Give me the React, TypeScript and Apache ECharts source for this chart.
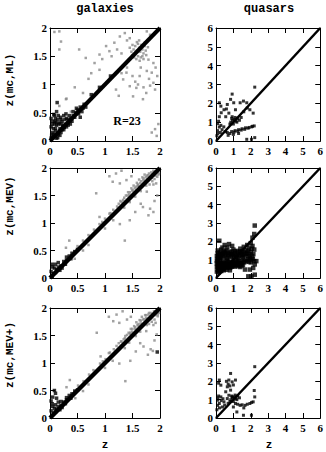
import React, { useEffect, useRef } from 'react';
import * as echarts from 'echarts';

const COLUMN_TITLES = ['galaxies', 'quasars'];
const ROW_NAMES = ['z(mc,ML)', 'z(mc,MEV)', 'z(mc,MEV+)'];
const X_NAME = 'z';
const NOTE = 'R=23';
const GAL_AXIS = [0, 2, 0.5];
const QSO_AXIS = [0, 6, 1];

const galDiag = [[0, 0], [2, 2]];
const qsoDiag = [[0, 0], [6, 6]];

// galaxies, ML
const g1Gray = [
  [0.08, 1.93], [0.17, 1.62], [0.2, 1.76], [0.53, 1.62], [0.65, 1.47], [0.81, 1.38], [0.9, 1.53], [0.95, 1.45],
  [1.02, 1.68], [1.08, 1.59], [1.12, 1.5], [1.17, 1.74], [1.22, 1.62], [1.27, 1.85], [1.3, 1.55], [1.36, 1.91],
  [1.4, 1.78], [1.45, 1.82], [1.76, 1.94], [1.82, 1.88], [0.9, 1.26], [0.7, 1.1], [0.45, 0.95], [0.6, 0.85],
  [0.3, 0.75], [0.17, 0.62], [0.29, 0.74], [0.38, 0.52], [0.75, 1.2], [0.17, 1.94],
  [1.5, 1.7], [1.52, 1.62], [1.55, 1.55], [1.55, 1.68], [1.58, 1.6], [1.6, 1.5], [1.6, 1.72], [1.62, 1.65],
  [1.64, 1.58], [1.65, 1.48], [1.66, 1.7], [1.68, 1.62], [1.7, 1.55], [1.7, 1.45], [1.72, 1.68], [1.74, 1.6],
  [1.75, 1.52], [1.53, 1.48], [1.48, 1.58], [1.57, 1.45], [1.63, 1.42], [1.68, 1.5], [1.72, 1.74], [1.78, 1.66],
  [1.5, 1.52], [1.45, 1.65], [1.58, 1.75], [1.62, 1.78],
  [1.2, 0.91], [1.33, 1.09], [1.39, 1.21], [1.45, 0.97], [1.51, 0.79], [1.57, 0.94], [1.63, 1.15], [1.69, 0.74],
  [1.76, 1.24], [1.79, 1.44], [1.85, 1.21], [1.88, 1.03], [1.88, 1.38], [1.91, 0.91], [1.6, 1.0], [1.7, 0.95],
  [1.8, 1.1], [1.55, 1.05], [1.4, 1.3], [1.3, 1.2], [1.95, 1.15], [1.92, 1.3], [1.65, 1.3], [1.75, 0.85],
  [1.25, 0.8], [1.5, 1.15], [1.82, 0.98],
  [1.91, 0.21], [1.94, 0.09], [1.85, 0.15], [1.97, 0.3],
];
const g1Black = [
  [0.13, 0.68], [0.07, 0.47], [0.05, 0.35], [0.1, 0.4], [0.15, 0.45], [0.02, 0.25], [0.08, 0.3], [0.12, 0.28],
  [0.2, 0.38], [0.25, 0.45], [0.18, 0.22], [0.05, 0.15], [0.1, 0.18], [0.15, 0.12], [0.22, 0.2], [0.28, 0.3],
  [0.3, 0.4], [0.35, 0.45], [0.05, 0.05], [0.03, 0.1], [0.08, 0.08], [0.12, 0.05], [0.25, 0.2], [0.32, 0.32],
  [0.38, 0.4], [0.42, 0.52], [0.45, 0.42], [0.5, 0.55], [0.55, 0.6], [0.6, 0.58], [0.4, 0.35], [0.2, 0.3],
  [0.3, 0.25], [0.15, 0.3], [0.1, 0.22], [0.75, 0.82], [0.9, 0.95], [1.1, 1.15], [0.55, 0.42],
  [0.02, 0.4], [0.04, 0.3], [0.06, 0.22], [0.09, 0.35], [0.11, 0.33], [0.14, 0.38], [0.17, 0.32], [0.19, 0.42],
  [0.22, 0.35], [0.24, 0.28], [0.27, 0.38], [0.29, 0.48], [0.33, 0.38], [0.36, 0.36], [0.02, 0.05], [0.06, 0.12],
  [0.14, 0.06], [0.18, 0.1], [0.2, 0.15], [0.23, 0.25], [0.26, 0.24], [0.33, 0.28], [0.37, 0.3], [0.42, 0.45],
  [0.47, 0.5], [0.52, 0.48], [0.58, 0.52], [0.62, 0.65], [0.65, 0.6], [0.48, 0.58], [0.08, 0.45], [0.12, 0.52],
];

// galaxies, MEV
const g2Gray = [
  [1.3, 1.38], [1.35, 1.46], [1.41, 1.5], [1.45, 1.56], [1.5, 1.6], [1.56, 1.66], [1.6, 1.7], [1.66, 1.76],
  [1.7, 1.81], [1.76, 1.86], [1.8, 1.9], [1.42, 1.56], [1.52, 1.68], [1.62, 1.79], [1.72, 1.88], [1.48, 1.63],
  [1.58, 1.73], [1.68, 1.83], [1.86, 1.76], [1.9, 1.8], [1.95, 1.84], [1.88, 1.7], [1.93, 1.72], [1.81, 1.7],
  [1.98, 1.9], [1.25, 1.35], [1.15, 1.24],
  [1.22, 1.3], [1.28, 1.4], [1.33, 1.42], [1.38, 1.5], [1.44, 1.52], [1.5, 1.58], [1.54, 1.63], [1.6, 1.68],
  [1.64, 1.73], [1.7, 1.78], [1.74, 1.83], [1.78, 1.87], [1.84, 1.92], [1.88, 1.95], [1.35, 1.28], [1.45, 1.38],
  [1.55, 1.48], [1.65, 1.58], [1.75, 1.68], [1.85, 1.82], [1.92, 1.86], [1.97, 1.88], [0.5, 0.58], [0.6, 0.68],
  [0.7, 0.78], [0.8, 0.88], [0.9, 0.98], [1.0, 1.08], [1.1, 1.18],
  [0.84, 1.54], [1.08, 1.85], [1.14, 1.75], [1.27, 1.72], [1.39, 1.78], [1.48, 1.85], [1.2, 1.9], [1.3, 1.95],
  [1.6, 1.68], [1.76, 1.57], [1.69, 1.29], [1.82, 1.26], [1.88, 1.2], [1.79, 1.14], [0.9, 1.11], [1.08, 1.17],
  [1.36, 0.68], [1.45, 1.05], [0.29, 0.55], [0.35, 0.68], [1.27, 0.98], [1.55, 1.2], [1.65, 1.35], [1.9, 1.4],
  [1.95, 1.5], [0.6, 0.5], [0.7, 0.6], [0.45, 0.35], [1.0, 0.9], [1.15, 1.05], [0.95, 1.02],
];
const g2Black = [
  [0.02, 0.12], [0.05, 0.2], [0.04, 0.25], [0.08, 0.18], [0.1, 0.25], [0.12, 0.15], [0.15, 0.2], [0.06, 0.08],
  [0.1, 0.1], [0.2, 0.22], [0.25, 0.3], [0.3, 0.32], [0.35, 0.4], [0.4, 0.45], [0.45, 0.48], [0.5, 0.52],
  [0.38, 0.35], [0.28, 0.25], [0.18, 0.14], [0.3, 0.38], [0.15, 0.28], [0.22, 0.18], [0.04, 0.02],
];

// galaxies, MEV+
const g3Gray = [
  [1.3, 1.39], [1.36, 1.45], [1.4, 1.51], [1.46, 1.55], [1.5, 1.62], [1.55, 1.65], [1.61, 1.71], [1.65, 1.77],
  [1.71, 1.8], [1.75, 1.87], [1.8, 1.91], [1.43, 1.55], [1.53, 1.67], [1.63, 1.78], [1.73, 1.87], [1.47, 1.62],
  [1.57, 1.74], [1.67, 1.84], [1.85, 1.75], [1.9, 1.79], [1.96, 1.85], [1.88, 1.69], [1.92, 1.73], [1.8, 1.71],
  [1.98, 1.91], [1.25, 1.36], [1.16, 1.25],
  [1.21, 1.31], [1.29, 1.39], [1.34, 1.43], [1.37, 1.49], [1.45, 1.53], [1.49, 1.57], [1.55, 1.62], [1.59, 1.69],
  [1.65, 1.72], [1.69, 1.79], [1.75, 1.82], [1.79, 1.88], [1.83, 1.91], [1.89, 1.94], [1.36, 1.27], [1.44, 1.37],
  [1.56, 1.49], [1.64, 1.57], [1.76, 1.69], [1.84, 1.81], [1.93, 1.87], [1.96, 1.89], [0.51, 0.59], [0.61, 0.67],
  [0.71, 0.79], [0.79, 0.87], [0.91, 0.99], [1.01, 1.07], [1.09, 1.19],
  [0.85, 1.55], [1.07, 1.84], [1.15, 1.76], [1.26, 1.73], [1.4, 1.79], [1.47, 1.84], [1.21, 1.88], [1.32, 1.94],
  [1.61, 1.67], [1.75, 1.58], [1.7, 1.3], [1.83, 1.25], [1.87, 1.22], [1.78, 1.15], [0.92, 1.12], [1.07, 1.18],
  [1.37, 0.67], [1.46, 1.04], [0.3, 0.56], [0.36, 0.69], [1.26, 0.99], [1.56, 1.21], [1.64, 1.36], [1.9, 1.41],
  [1.94, 1.52], [0.6, 0.49], [0.7, 0.61], [0.46, 0.36], [1.0, 0.91], [1.14, 1.04], [0.96, 1.03],
];
const g3Black = [
  [0.02, 0.13], [0.05, 0.21], [0.04, 0.26], [0.08, 0.17], [0.1, 0.24], [0.12, 0.16], [0.15, 0.21], [0.06, 0.09],
  [0.1, 0.11], [0.2, 0.23], [0.25, 0.29], [0.3, 0.33], [0.35, 0.41], [0.4, 0.44], [0.45, 0.49], [0.5, 0.51],
  [0.38, 0.36], [0.28, 0.26], [0.18, 0.15], [0.3, 0.37], [0.15, 0.29], [0.22, 0.19],
  [0.1, 0.45], [0.05, 0.38], [0.12, 0.36], [0.02, 0.31], [0.2, 0.3], [1.95, 1.2], [0.08, 0.5],
];

// quasars, ML
const q1Black = [
  [0.19, 2.03], [0.28, 1.85], [0.46, 1.66], [0.65, 1.94], [0.84, 2.21], [0.93, 2.49], [1.02, 2.03], [1.12, 1.66],
  [1.39, 2.03], [1.58, 2.12], [1.77, 2.03], [1.95, 1.66], [2.23, 2.86], [2.14, 1.48], [0.56, 1.29], [0.74, 1.48],
  [0.93, 1.29], [0.19, 1.29], [0.3, 1.5], [0.6, 1.7],
  [0.85, 1.0], [0.95, 1.1], [1.05, 1.15], [1.15, 1.05], [1.25, 1.2], [1.0, 0.9], [1.35, 1.1], [1.45, 1.25],
  [0.9, 1.2], [1.2, 1.0], [1.1, 1.25], [0.8, 0.9],
  [0.09, 0.92], [0.19, 0.74], [0.09, 0.55], [0.28, 0.83], [0.05, 0.28], [0.15, 1.05], [0.35, 0.6], [0.45, 0.75],
  [0.55, 0.5], [0.1, 0.4], [0.25, 0.45],
  [0.65, 0.45], [0.8, 0.4], [0.9, 0.5], [1.05, 0.48], [1.1, 0.55], [1.25, 0.52], [1.3, 0.6], [1.45, 0.58],
  [1.5, 0.65], [1.65, 0.62], [1.7, 0.7], [1.85, 0.68], [1.9, 0.72], [2.05, 0.75], [2.1, 0.78], [2.2, 0.8],
  [0.7, 0.3], [1.0, 0.35], [1.3, 0.4],
  [1.77, 0.09], [2.04, 0.09], [2.23, 0.18], [1.6, 1.55], [1.8, 1.75],
];

// quasars, MEV
const q2Black = [
  [0.19, 2.03], [0.37, 1.66], [0.65, 1.66], [0.93, 1.75], [0.5, 1.8], [0.75, 1.85],
  [0.1, 1.5], [0.2, 1.4], [0.3, 1.55], [0.45, 1.45], [0.6, 1.5], [0.8, 1.4], [1.0, 1.55], [1.2, 1.48],
  [1.1, 1.35], [1.4, 1.6], [1.6, 1.7], [1.8, 1.8], [2.0, 1.9], [1.9, 1.6], [2.1, 1.75], [1.7, 1.5], [1.5, 1.45],
  [0.05, 1.2], [0.15, 1.25], [0.25, 1.1], [0.35, 1.3], [0.5, 1.2], [0.62, 1.1], [0.7, 1.28], [0.85, 1.15],
  [0.95, 1.3], [1.05, 1.15], [1.2, 1.25], [1.3, 1.1], [1.45, 1.3], [1.55, 1.15], [1.7, 1.3], [1.85, 1.2],
  [2.0, 1.4], [2.15, 1.3], [1.95, 1.1], [2.2, 1.55],
  [0.05, 0.95], [0.12, 0.85], [0.22, 0.98], [0.3, 0.82], [0.42, 0.92], [0.55, 0.85], [0.65, 0.98], [0.78, 0.88],
  [0.9, 0.8], [1.0, 0.95], [1.12, 0.85], [1.25, 0.95], [1.38, 0.82], [1.5, 0.92], [1.62, 0.85], [1.78, 0.95],
  [1.9, 0.88], [2.05, 0.98], [2.2, 0.92], [2.32, 0.92],
  [0.05, 0.6], [0.1, 0.7], [0.18, 0.55], [0.28, 0.68], [0.38, 0.58], [0.5, 0.65], [0.6, 0.55], [0.72, 0.68],
  [0.85, 0.6], [0.98, 0.7], [1.1, 0.62], [1.25, 0.7], [1.4, 0.6], [1.55, 0.7], [1.67, 0.46], [1.95, 0.46],
  [2.14, 0.55], [2.23, 0.74],
  [0.05, 0.35], [0.1, 0.45], [0.2, 0.4], [0.3, 0.38], [0.45, 0.42], [0.6, 0.45], [0.8, 0.42],
  [1.86, 0.09], [2.04, 0.09], [2.23, 0.18], [2.23, 2.86], [2.1, 2.2], [2.2, 2.4],
  [0.08, 1.05], [0.18, 1.15], [0.28, 1.2], [0.4, 1.15], [0.55, 1.3], [0.75, 1.2], [0.88, 1.3], [1.0, 1.22],
  [1.15, 1.15], [1.35, 1.2], [1.5, 1.25], [1.62, 1.22], [1.78, 1.35], [1.9, 1.3], [2.08, 1.2],
  [0.05, 0.8], [0.15, 0.75], [0.25, 0.85], [0.35, 0.72], [0.48, 0.8], [0.6, 0.75], [0.7, 0.9], [0.82, 0.75],
  [0.95, 0.85], [1.05, 0.78], [1.18, 0.95], [1.3, 0.88], [1.45, 0.8], [1.58, 0.98], [1.7, 0.9], [1.85, 1.02],
  [2.0, 0.85], [2.12, 1.05],
  [0.1, 1.35], [0.25, 1.3], [0.4, 1.38], [0.52, 1.4], [0.68, 1.38], [0.9, 1.45], [1.08, 1.45], [1.28, 1.4],
  [1.38, 1.45], [1.62, 1.4], [1.85, 1.5], [2.05, 1.6],
  [0.12, 0.6], [0.22, 0.65], [0.32, 0.55], [0.45, 0.55], [0.55, 0.72], [0.68, 0.6], [0.8, 0.55], [0.92, 0.62],
  [1.05, 0.68], [1.18, 0.72], [1.3, 0.65], [1.48, 0.68], [0.15, 0.3], [0.25, 0.5], [0.4, 0.5],
];

// quasars, MEV+
const q3Black = [
  [0.19, 2.07], [0.28, 1.79], [0.84, 2.43], [0.74, 2.07], [0.93, 1.97], [1.12, 2.07], [0.65, 1.7], [0.56, 1.43],
  [0.84, 1.52], [0.7, 1.85], [0.6, 2.0], [0.8, 1.75], [1.0, 1.8], [0.15, 1.9], [2.23, 2.8], [2.2, 1.5],
  [0.85, 1.0], [0.95, 1.1], [1.05, 1.15], [1.15, 1.05], [1.25, 1.2], [1.0, 0.9], [1.35, 1.1], [0.9, 1.2],
  [1.2, 1.0], [1.1, 1.25], [0.8, 0.9], [0.7, 0.8],
  [1.12, 0.79], [1.39, 0.69], [1.67, 0.69], [1.95, 0.79], [2.14, 0.88], [2.23, 1.15], [1.25, 0.75], [1.5, 0.72],
  [1.8, 0.75], [2.05, 0.85], [1.0, 0.6], [1.6, 0.55],
  [1.58, 0.15], [2.04, 0.15], [1.2, 0.33],
  [0.09, 0.97], [0.19, 0.79], [0.09, 0.69], [0.28, 1.15], [0.37, 0.6], [0.46, 0.88], [0.65, 1.06], [0.74, 1.24],
  [0.93, 1.15], [0.1, 1.1], [0.2, 0.55], [0.05, 0.45], [0.3, 0.95], [0.5, 0.7], [0.15, 1.2], [0.4, 1.05],
];

const GRAY = '#8a8a8a';
const GRIDS = [
  { left: 50, top: 28, width: 110, height: 113 },
  { left: 216, top: 28, width: 107, height: 113 },
  { left: 50, top: 168, width: 110, height: 110 },
  { left: 216, top: 168, width: 107, height: 110 },
  { left: 50, top: 308, width: 110, height: 110 },
  { left: 216, top: 308, width: 107, height: 110 },
];

const labelFont = { color: '#000', fontFamily: 'Liberation Serif', fontWeight: 'bold' as const, fontSize: 11 };

function axisPair(gridIndex: number, range: number[], dim: 'x' | 'y') {
  const base = {
    gridIndex,
    type: 'value',
    min: range[0],
    max: range[1],
    interval: range[2],
    axisLine: { show: true, onZero: false, lineStyle: { color: '#000', width: 1 } },
    axisTick: { show: true, inside: true, length: 5, lineStyle: { color: '#000', width: 1 } },
    splitLine: { show: false },
  };
  return [
    {
      ...base,
      position: dim === 'x' ? 'bottom' : 'left',
      axisLabel: { show: true, margin: dim === 'x' ? 4 : 3, showMinLabel: true, showMaxLabel: true, ...labelFont },
    },
    { ...base, position: dim === 'x' ? 'top' : 'right', axisLabel: { show: false } },
  ];
}

export default function App() {
  const ref = useRef<HTMLDivElement>(null);
  useEffect(() => {
    if (!ref.current) return;
    const chart = echarts.init(ref.current, undefined, { renderer: 'svg' });
    const panels = [
      { range: GAL_AXIS, diag: galDiag, dw: 4, gray: g1Gray, black: g1Black, bs: 3.5 },
      { range: QSO_AXIS, diag: qsoDiag, dw: 2.5, gray: [], black: q1Black, bs: 3 },
      { range: GAL_AXIS, diag: galDiag, dw: 4.5, gray: g2Gray, black: g2Black, bs: 3.5 },
      { range: QSO_AXIS, diag: qsoDiag, dw: 2.5, gray: [], black: q2Black, bs: 4.5 },
      { range: GAL_AXIS, diag: galDiag, dw: 4.5, gray: g3Gray, black: g3Black, bs: 3.5 },
      { range: QSO_AXIS, diag: qsoDiag, dw: 2.5, gray: [], black: q3Black, bs: 3 },
    ];
    const xAxis: any[] = [];
    const yAxis: any[] = [];
    const series: any[] = [];
    panels.forEach((p, i) => {
      xAxis.push(...axisPair(i, p.range, 'x'));
      yAxis.push(...axisPair(i, p.range, 'y'));
      const ax = { xAxisIndex: i * 2, yAxisIndex: i * 2 };
      series.push({ type: 'scatter', ...ax, data: p.gray, symbol: 'rect', symbolSize: 2.5, itemStyle: { color: GRAY } });
      series.push({ type: 'line', ...ax, data: p.diag, symbol: 'none', lineStyle: { color: '#000', width: p.dw }, silent: true });
      series.push({ type: 'scatter', ...ax, data: p.black, symbol: 'rect', symbolSize: p.bs, itemStyle: { color: '#000' } });
    });
    const mono = '"Liberation Mono", "DejaVu Sans Mono", monospace';
    const graphic: any[] = [
      { type: 'text', x: 105, y: 9, style: { text: COLUMN_TITLES[0], textAlign: 'center', textVerticalAlign: 'middle', font: `bold 12px ${mono}`, fill: '#000' } },
      { type: 'text', x: 269, y: 9, style: { text: COLUMN_TITLES[1], textAlign: 'center', textVerticalAlign: 'middle', font: `bold 12px ${mono}`, fill: '#000' } },
      { type: 'text', x: 105, y: 445, style: { text: X_NAME, textAlign: 'center', textVerticalAlign: 'middle', font: `bold 11px ${mono}`, fill: '#000' } },
      { type: 'text', x: 269, y: 445, style: { text: X_NAME, textAlign: 'center', textVerticalAlign: 'middle', font: `bold 11px ${mono}`, fill: '#000' } },
      { type: 'text', x: 127, y: 121, style: { text: NOTE, textAlign: 'center', textVerticalAlign: 'middle', font: 'bold 12px "Liberation Serif"', fill: '#000' } },
    ];
    const nameY = [80, 206, 355];
    ROW_NAMES.forEach((n, r) => {
      graphic.push({
        type: 'text', x: 10, y: nameY[r], rotation: Math.PI / 2,
        style: { text: n, textAlign: 'center', textVerticalAlign: 'middle', font: `bold 11px ${mono}`, fill: '#000' },
      });
    });
    chart.setOption({
      animation: false,
      backgroundColor: '#fff',
      grid: GRIDS,
      xAxis,
      yAxis,
      series,
      graphic,
    });
    return () => chart.dispose();
  }, []);
  return <div ref={ref} style={{ position: 'absolute', left: 0, top: 0, width: 326, height: 452 }} />;
}
